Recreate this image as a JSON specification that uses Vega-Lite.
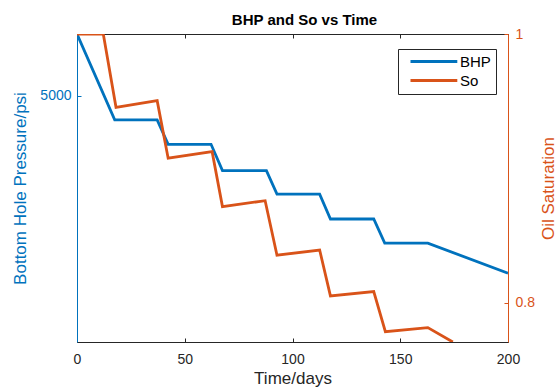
{
  "$schema": "https://vega.github.io/schema/vega-lite/v6.json",
  "width": 431,
  "height": 308,
  "autosize": {"type": "none"},
  "padding": {"left": 77, "top": 34, "right": 49, "bottom": 45},
  "background": "white",
  "title": {"text": "BHP and So vs Time", "fontSize": 15, "fontWeight": "bold", "font": "Liberation Sans", "color": "#000000", "anchor": "middle", "baseline": "alphabetic", "offset": -12.5, "dx": 12},
  "config": {
    "font": "Liberation Sans",
    "view": {"stroke": "#262626", "strokeWidth": 1},
    "axis": {"grid": false, "labelFont": "Liberation Sans", "titleFont": "Liberation Sans", "labelFontSize": 14, "titleFontSize": 17, "titleFontWeight": "normal"}
  },
  "data": {"values": [
    {"series": "BHP", "day": 0, "value": 5200},
    {"series": "BHP", "day": 17.5, "value": 4923},
    {"series": "BHP", "day": 37.2, "value": 4923},
    {"series": "BHP", "day": 42.3, "value": 4844},
    {"series": "BHP", "day": 62.2, "value": 4844},
    {"series": "BHP", "day": 67.5, "value": 4759},
    {"series": "BHP", "day": 87.9, "value": 4759},
    {"series": "BHP", "day": 92.8, "value": 4683},
    {"series": "BHP", "day": 112.6, "value": 4683},
    {"series": "BHP", "day": 117.6, "value": 4603},
    {"series": "BHP", "day": 137.7, "value": 4603},
    {"series": "BHP", "day": 142.8, "value": 4525},
    {"series": "BHP", "day": 162.8, "value": 4525},
    {"series": "BHP", "day": 200, "value": 4428},
    {"series": "So", "day": 0, "value": 1.0},
    {"series": "So", "day": 12.2, "value": 1.0},
    {"series": "So", "day": 18.1, "value": 0.9454},
    {"series": "So", "day": 37.2, "value": 0.9504},
    {"series": "So", "day": 42.3, "value": 0.9075},
    {"series": "So", "day": 62.7, "value": 0.9124},
    {"series": "So", "day": 67.5, "value": 0.8715},
    {"series": "So", "day": 87.3, "value": 0.8759},
    {"series": "So", "day": 92.8, "value": 0.8353},
    {"series": "So", "day": 112.6, "value": 0.8392},
    {"series": "So", "day": 117.6, "value": 0.805},
    {"series": "So", "day": 137.7, "value": 0.8082},
    {"series": "So", "day": 143.1, "value": 0.7784},
    {"series": "So", "day": 162.8, "value": 0.7814},
    {"series": "So", "day": 174.4, "value": 0.7707}
  ]},
  "layer": [
    {
      "transform": [{"filter": "datum.series == 'BHP'"}],
      "mark": {"type": "line", "strokeWidth": 2.8, "clip": true},
      "encoding": {
        "x": {"field": "day", "type": "quantitative", "scale": {"domain": [0, 200], "nice": false, "zero": false},
              "axis": {"orient": "bottom", "values": [0, 50, 100, 150, 200], "title": "Time/days", "tickSize": -4, "labelPadding": 14, "domainColor": "#262626", "tickColor": "#262626", "labelColor": "#262626", "titleColor": "#262626", "titleX": 215.5, "titleY": 41, "titleBaseline": "alphabetic", "titleAlign": "center", "labelFlush": false}},
        "y": {"field": "value", "type": "quantitative", "scale": {"domain": [4206, 5200], "nice": false, "zero": false},
              "axis": {"orient": "left", "values": [5000], "format": "d", "title": "Bottom Hole Pressure/psi", "tickSize": -4, "labelPadding": 10, "domainColor": "#0072BD", "tickColor": "#0072BD", "labelColor": "#0072BD", "titleColor": "#0072BD", "titleX": -57, "titleY": 154, "titleAngle": -90, "titleBaseline": "middle", "titleAlign": "center"}},
        "color": {"field": "series", "type": "nominal", "scale": {"domain": ["BHP", "So"], "range": ["#0072BD", "#D95319"]},
                  "legend": {"orient": "none", "legendX": 321, "legendY": 15, "title": null, "symbolType": "M0,0H7.8", "symbolSize": 144, "symbolStrokeWidth": 3, "labelFontSize": 15, "labelFont": "Liberation Sans", "labelColor": "#000000", "fillColor": "white", "strokeColor": "#262626", "padding": 5, "rowPadding": 3, "labelOffset": 42, "symbolOffset": 0}}
      }
    },
    {
      "transform": [{"filter": "datum.series == 'So'"}],
      "mark": {"type": "line", "strokeWidth": 2.8, "clip": true},
      "encoding": {
        "x": {"field": "day", "type": "quantitative", "scale": {"domain": [0, 200], "nice": false, "zero": false},
              "axis": {"orient": "top", "values": [0, 50, 100, 150, 200], "labels": false, "title": null, "domain": false, "tickSize": -4, "tickColor": "#262626"}},
        "y": {"field": "value", "type": "quantitative", "scale": {"domain": [0.7707, 1], "nice": false, "zero": false},
              "axis": {"orient": "right", "values": [0.8, 1], "format": "~g", "title": "Oil Saturation", "tickSize": -4, "labelPadding": 11, "domainColor": "#D95319", "tickColor": "#D95319", "labelColor": "#D95319", "titleColor": "#D95319", "titleX": 40, "titleY": 154, "titleAngle": -90, "titleBaseline": "middle", "titleAlign": "center"}},
        "color": {"field": "series", "type": "nominal"}
      }
    }
  ],
  "resolve": {"scale": {"y": "independent"}, "axis": {"x": "independent"}}
}
